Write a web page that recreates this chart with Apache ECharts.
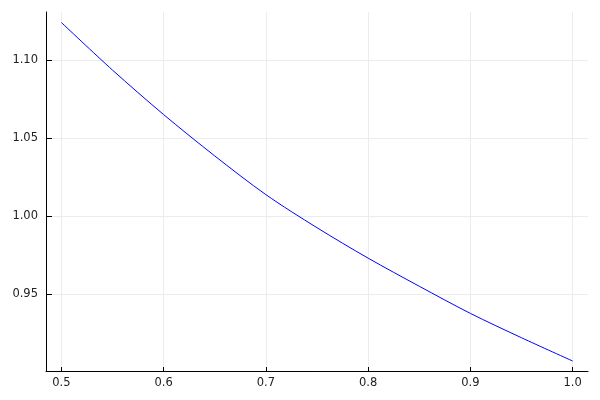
<!DOCTYPE html>
<html>
<head>
<meta charset="utf-8">
<script src="https://cdn.jsdelivr.net/npm/echarts@6/dist/echarts.min.js"></script>
<style>
  html, body { margin: 0; padding: 0; background: #fff; }
  #chart { width: 600px; height: 400px; }
</style>
</head>
<body>
<div id="chart"></div>
<script>
// values
var xValues = [0.50, 0.55, 0.60, 0.65, 0.70, 0.75, 0.80, 0.85, 0.90, 0.95, 1.00];
var yValues = [1.124, 1.0935, 1.065, 1.0385, 1.0137, 0.9925, 0.973, 0.955, 0.9376, 0.922, 0.9071];
var xTicks = [0.5, 0.6, 0.7, 0.8, 0.9, 1.0];
var yTicks = [0.95, 1.00, 1.05, 1.10];

var points = [];
for (var i = 0; i < xValues.length; i++) {
  points.push([xValues[i], yValues[i]]);
}

var myChart = echarts.init(document.getElementById('chart'));
var labelFont = { fontFamily: 'DejaVu Sans', fontSize: 11.5, color: '#222' };

myChart.setOption({
  animation: false,
  grid: {
    left: 46,
    right: 12,
    top: 12,
    bottom: 29,
    containLabel: false,
    outerBoundsMode: 'none'
  },
  xAxis: {
    type: 'value',
    min: 0.485,
    max: 1.015,
    axisLine: { onZero: false, lineStyle: { color: '#000', width: 1 } },
    axisTick: {
      inside: true,
      length: 4,
      customValues: xTicks,
      lineStyle: { color: '#000' }
    },
    axisLabel: Object.assign({
      margin: 6,
      customValues: xTicks,
      formatter: function (v) { return v.toFixed(1); }
    }, labelFont),
    splitLine: { show: true, lineStyle: { color: '#ececec', width: 1 } }
  },
  yAxis: {
    type: 'value',
    min: 0.9007,
    max: 1.1307,
    axisLine: { show: true, onZero: false, lineStyle: { color: '#000', width: 1 } },
    axisTick: {
      show: true,
      inside: true,
      length: 6,
      customValues: yTicks,
      lineStyle: { color: '#000' }
    },
    axisLabel: Object.assign({
      margin: 8,
      customValues: yTicks,
      formatter: function (v) { return v.toFixed(2); }
    }, labelFont),
    splitLine: { show: true, lineStyle: { color: '#ececec', width: 1 } }
  },
  series: [{
    type: 'line',
    data: points,
    showSymbol: false,
    smooth: 0.3,
    lineStyle: { color: '#0000ff', width: 1 }
  }]
});
</script>
</body>
</html>
